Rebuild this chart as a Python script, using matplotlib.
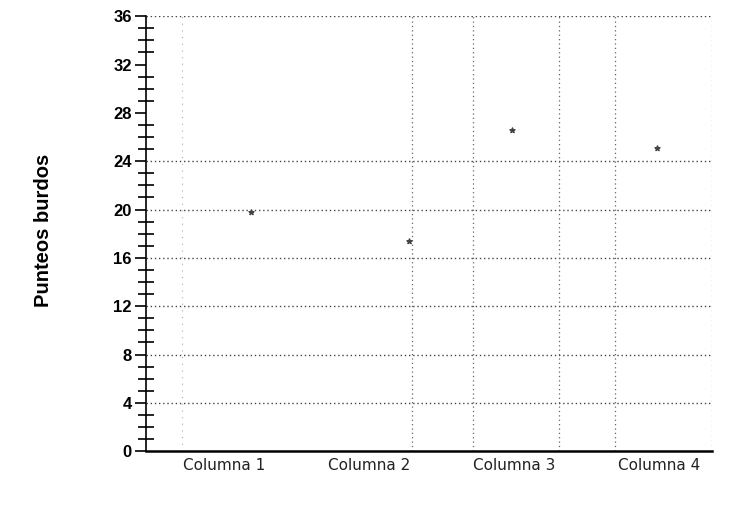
import matplotlib.pyplot as plt
import numpy as np
from matplotlib.ticker import MultipleLocator

plt.rcParams["font.family"] = ["Liberation Sans", "DejaVu Sans"]

# datos
columnas = ["Columna 1", "Columna 2", "Columna 3", "Columna 4"]
punteos = [19.8, 17.4, 26.6, 25.1]
posiciones_x = [1.19, 2.28, 2.99, 3.99]   # donde caen los puntos (no centrados)
lineas_horizontales = [4, 8, 12, 16, 20, 24, 36]   # en 28 y 32 no hay linea
lineas_verticales = [2.30, 2.72, 3.31, 3.70]
y_max = 36

fig = plt.figure(figsize=(7.55, 5.24), dpi=100)
ax = fig.add_axes([0.193, 0.139, 0.750, 0.830])

for y in lineas_horizontales:
    ax.axhline(y, color="#444444", lw=1.0, ls=(0, (1, 2)), zorder=1)
for x in lineas_verticales:
    ax.axvline(x, color="#666666", lw=0.9, ls=(0, (1, 2.5)), zorder=1)
# linea de la columna 1, muy tenue en el escaneo
ax.axvline(0.71, color="#aaaaaa", lw=0.8, ls=(0, (1, 5)), zorder=1)
ax.axvline(4.366, color="#888888", lw=0.9, ls=(0, (1, 3)), zorder=1)

ax.scatter(posiciones_x, punteos, s=14, color="#444444", marker="*", zorder=3)

ax.set_xlim(0.462, 4.366)
ax.set_ylim(0, y_max)
ax.set_xticks(range(1, 5))
ax.set_xticklabels(columnas, fontsize=11, color="#222222", family="DejaVu Sans")
ax.tick_params(axis="x", length=0, pad=5)

ax.yaxis.set_major_locator(MultipleLocator(4))
ax.yaxis.set_minor_locator(MultipleLocator(1))
ax.tick_params(axis="y", which="major", direction="out", length=8, width=1.2,
               labelsize=12, pad=2)
ax.tick_params(axis="y", which="minor", direction="inout", length=12, width=1.2)
for lab in ax.get_yticklabels():
    lab.set_fontweight("bold")

ax.spines["top"].set_visible(False)
ax.spines["right"].set_visible(False)
ax.spines["left"].set_linewidth(1.2)
ax.spines["bottom"].set_linewidth(1.8)

fig.text(0.058, 0.56, "Punteos burdos", rotation=90, ha="center", va="center",
         fontsize=14.5, fontweight="bold")

fig.savefig("out.png", dpi=100)
